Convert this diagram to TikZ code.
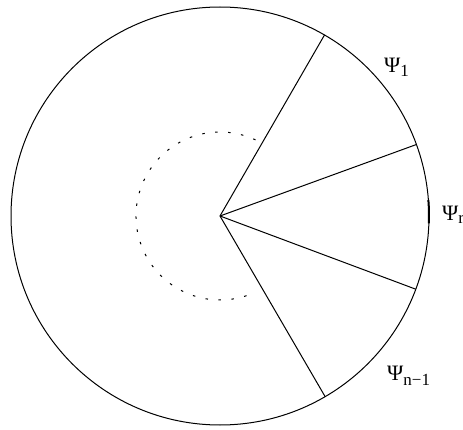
\documentclass[tikz,border=0pt]{standalone}
\usepackage{fontspec}
\setmainfont{Liberation Serif}
\begin{document}
\begin{tikzpicture}[x=1pt,y=1pt,
  rim/.style={line width=1pt},
  ray/.style={line width=1pt},
  inner/.style={line width=1pt,dash pattern=on 2.5pt off 10.5pt},
  lbl/.style={inner sep=0pt,anchor=base west,font=\fontsize{22}{22}\selectfont}]
\useasboundingbox (0,0) rectangle (463,429);
\coordinate (O) at (220,213);
\draw[rim] (O) circle (209);
\draw[line width=2pt] ([shift={(-2:209)}]O) arc (-2:4.4:209);
\coordinate (p1) at ([shift={(60:209)}]O);
\coordinate (p2) at ([shift={(20:209)}]O);
\coordinate (p3) at ([shift={(-20.5:209)}]O);
\coordinate (p4) at ([shift={(-59.8:209)}]O);
\draw[ray] (O) -- (p1);
\draw[ray] (O) -- (p2);
\draw[ray] (O) -- (p3);
\draw[ray] (O) -- (p4);
\draw[inner] ([shift={(65:84)}]O) arc (65:293:84);
\node[lbl] (l1) at (384,356) {Ψ\raisebox{-4pt}{\fontsize{17}{17}\selectfont 1}};
\node[lbl] (lr) at (442,209) {Ψ\raisebox{-3pt}{\fontsize{17}{17}\selectfont r}};
\node[lbl] (ln) at (387,49) {Ψ\raisebox{-5pt}{\fontsize{17}{17}\selectfont n−1}};
\end{tikzpicture}
\end{document}
